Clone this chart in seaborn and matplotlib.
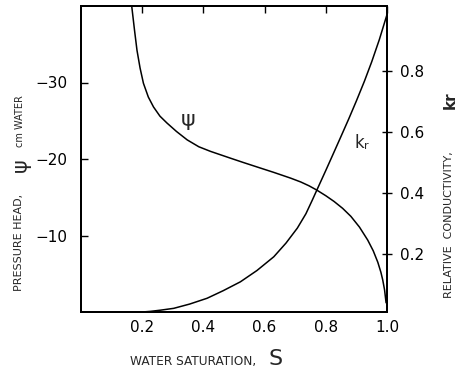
import matplotlib
matplotlib.use("Agg")
import matplotlib.pyplot as plt
import seaborn as sns
import pandas as pd

# Pressure head curve (left axis)
S_psi = [0.166, 0.175, 0.183, 0.193, 0.204, 0.220, 0.237, 0.258, 0.281, 0.312,
         0.347, 0.385, 0.423, 0.489, 0.530, 0.576, 0.630, 0.685, 0.718, 0.745,
         0.770, 0.800, 0.827, 0.855, 0.882, 0.910, 0.937, 0.955, 0.970, 0.980,
         0.986, 0.992, 0.997]
psi = [-39.9, -36.8, -34.2, -31.9, -29.9, -28.1, -26.8, -25.6, -24.7, -23.6,
       -22.5, -21.6, -21.0, -20.1, -19.55, -18.95, -18.25, -17.5, -17.0, -16.5,
       -15.95, -15.2, -14.45, -13.55, -12.5, -11.1, -9.4, -8.0, -6.5, -5.2,
       -4.2, -2.9, -1.2]

# Relative conductivity curve (right axis)
S_kr = [0.200, 0.226, 0.260, 0.303, 0.355, 0.412, 0.465, 0.521, 0.575, 0.630,
        0.670, 0.707, 0.735, 0.756, 0.770, 0.800, 0.825, 0.849, 0.875, 0.900,
        0.926, 0.950, 0.975, 1.0]
kr = [0.010, 0.012, 0.016, 0.022, 0.036, 0.055, 0.080, 0.109, 0.146, 0.191,
      0.236, 0.285, 0.332, 0.377, 0.408, 0.474, 0.530, 0.584, 0.643, 0.702,
      0.766, 0.830, 0.903, 0.985]

x_ticks = [0.2, 0.4, 0.6, 0.8, 1.0]
x_ticklabels = ["0.2", "0.4", "0.6", "0.8", "1.0"]
psi_ticks = [-30, -20, -10]
psi_ticklabels = ["\u221230", "\u221220", "\u221210"]
kr_ticks = [0.2, 0.4, 0.6, 0.8]
kr_ticklabels = ["0.2", "0.4", "0.6", "0.8"]

sns.set_style("white")
plt.rcParams["font.family"] = ["DejaVu Sans"]

df_psi = pd.DataFrame({"S": S_psi, "psi": psi})
df_kr = pd.DataFrame({"S": S_kr, "kr": kr})

fig = plt.figure(figsize=(4.6, 3.71), dpi=100)
W, H = 460, 371
ax = fig.add_axes([81 / W, 1 - 312 / H, (387 - 81) / W, (312 - 6) / H])
ax2 = ax.twinx()

sns.lineplot(data=df_psi, x="S", y="psi", ax=ax, color="black", linewidth=1.1)
sns.lineplot(data=df_kr, x="S", y="kr", ax=ax2, color="black", linewidth=1.1)

ax.set_xlim(0, 1.0)
ax.set_ylim(0, -40)
ax2.set_ylim(0.01, 1.013)

ax.set_xticks(x_ticks)
ax.set_xticklabels(x_ticklabels, fontsize=11)
ax.set_yticks(psi_ticks)
ax.set_yticklabels(psi_ticklabels, fontsize=11)
ax2.set_yticks(kr_ticks)
ax2.set_yticklabels(kr_ticklabels, fontsize=11)

ax.tick_params(axis="x", direction="in", top=True, length=5, width=1, pad=6, colors="black")
ax.tick_params(axis="y", direction="in", length=5, width=1, pad=10, colors="black")
ax2.tick_params(axis="y", direction="inout", length=7, width=1, pad=6, colors="black")

for a in (ax, ax2):
    for sp in a.spines.values():
        sp.set_visible(True)
        sp.set_color("black")
        sp.set_linewidth(1.4)
    a.set_xlabel("")
    a.set_ylabel("")

# In-plot curve labels (figure pixel positions)
fig.text(188 / W, 1 - 120 / H, "ψ", fontsize=16, ha="center", va="center")
fig.text(355 / W, 1 - 143 / H, "k", fontsize=12, ha="left", va="center")
fig.text(364 / W, 1 - 146 / H, "r", fontsize=8, ha="left", va="center")

# X axis label
fig.text(130 / W, 1 - 361 / H, "WATER SATURATION,", fontsize=8.7, ha="left", va="center")
fig.text(269 / W, 1 - 359 / H, "S", fontsize=16, ha="left", va="center")

# Left axis label (rotated)
fig.text(19 / W, 1 - 242 / H, "PRESSURE HEAD,", fontsize=8, rotation=90, ha="center", va="center")
fig.text(21 / W, 1 - 165 / H, "ψ", fontsize=15, rotation=90, ha="center", va="center")
fig.text(20 / W, 1 - 121 / H, "cm WATER", fontsize=7, rotation=90, ha="center", va="center")

# Right axis label (rotated)
fig.text(449 / W, 1 - 225 / H, "RELATIVE  CONDUCTIVITY,", fontsize=8, rotation=90, ha="center", va="center")
fig.text(450 / W, 1 - 100 / H, "kr", fontsize=11, rotation=90, ha="center", va="center", weight="bold")

fig.savefig("out.png", dpi=100, facecolor="white")
